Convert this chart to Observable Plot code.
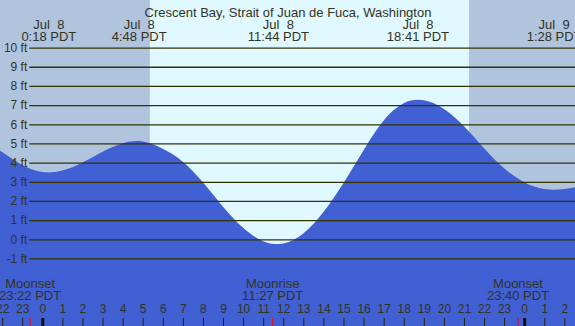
<!DOCTYPE html>
<html><head><meta charset="utf-8">
<script src="https://cdn.jsdelivr.net/npm/d3@7"></script>
<script src="https://cdn.jsdelivr.net/npm/@observablehq/plot@0.6"></script>
<style>body{margin:0;background:#fff;overflow:hidden}</style>
</head><body><div id="chart"></div>
<script>
// ---- data ----
const hours  = [-3,-2,-1,0,1,2,3,4,5,6,7,8,9,10,11,12,13,14,15,16,17,18,19,20,21,22,23,24,25,26,27];
const levels = [5.23,4.55,3.88,3.51,3.59,4.01,4.57,5.01,5.1,4.72,4.05,2.97,1.7,0.6,-0.1,-0.22,0.3,1.42,2.94,4.65,6.2,7.1,7.25,6.8,5.9,4.75,3.7,2.98,2.62,2.62,2.82];
const tideDates = ["Jul  8","Jul  8","Jul  8","Jul  8","Jul  9"];
const tideTimes = ["0:18 PDT","4:48 PDT","11:44 PDT","18:41 PDT","1:28 PDT"];
const tideHours = [0.3, 4.8, 11.733, 18.683, 25.467];
const moonNames = ["Moonset","Moonrise","Moonset"];
const moonTimes = ["23:22 PDT","11:27 PDT","23:40 PDT"];
const moonHours = [-0.633, 11.45, 23.667];
const sunrise = 5.36, sunset = 21.25;
const ftTicks = [-1,0,1,2,3,4,5,6,7,8,9,10];
const hourTicks = [-2,-1,0,1,2,3,4,5,6,7,8,9,10,11,12,13,14,15,16,17,18,19,20,21,22,23,24,25,26];
const midnightHours = [0, 24];
const title = "Crescent Bay, Strait of Juan de Fuca, Washington";

// ---- layout ----
const W = 575, H = 326;
const xMin = -2.107, xMax = 26.53;
const yMin = -4.523, yMax = 12.483;
const pxPerHour = W / (xMax - xMin);
const pxPerFt = H / (yMax - yMin);
const gridX1 = xMin + 29.3 / pxPerHour;
const tickTop = yMin + 8 / pxPerFt;

const tide = hours.map((h, i) => ({h, v: levels[i]}));
const events = tideHours.map((h, i) => ({h, date: tideDates[i], time: tideTimes[i]}));
const moons = moonHours.map((h, i) => ({h, name: moonNames[i], time: moonTimes[i]}));
const bands = [
  {a: xMin, b: sunrise, night: true},
  {a: sunrise, b: sunset, night: false},
  {a: sunset, b: xMax, night: true}
];
const txt = "#333322";
const font = "Liberation Sans, Arial, sans-serif";

const chart = Plot.plot({
  width: W, height: H,
  marginTop: 0, marginRight: 0, marginBottom: 0, marginLeft: 0,
  x: {domain: [xMin, xMax], axis: null},
  y: {domain: [yMin, yMax], axis: null},
  style: {fontFamily: font, background: "#fff"},
  marks: [
    Plot.rect(bands, {x1: "a", x2: "b", y1: yMin, y2: yMax, fill: d => d.night ? "#B0C4DE" : "#E0F8FF"}),
    Plot.areaY(tide, {x: "h", y1: yMin, y2: "v", curve: "natural", fill: "#4160D4", clip: true}),
    Plot.ruleY(ftTicks, {y: d => d, x1: gridX1, x2: xMax, stroke: "#333300", strokeWidth: 1.3}),
    Plot.text(ftTicks, {x: gridX1, y: d => d, text: d => `${d} ft`, textAnchor: "end", dx: -2.5, fontSize: 12, fill: txt}),
    Plot.text([title], {frameAnchor: "top", text: d => d, dy: 7, fontSize: 13, fill: txt}),
    Plot.text(events, {x: "h", text: "date", frameAnchor: "top", dy: 19.6, fontSize: 13, fill: txt}),
    Plot.text(events, {x: "h", text: "time", frameAnchor: "top", dy: 31.4, fontSize: 13, fill: txt}),
    Plot.text(moons, {x: "h", text: "name", frameAnchor: "bottom", dy: -38.4, fontSize: 13, fill: txt}),
    Plot.text(moons, {x: "h", text: "time", frameAnchor: "bottom", dy: -26.2, fontSize: 13, fill: txt}),
    Plot.text(hourTicks, {x: d => d, text: d => String(((d % 24) + 24) % 24), frameAnchor: "bottom", dy: -13.8, fontSize: 12, fill: txt}),
    Plot.ruleX(hourTicks, {x: d => d, y1: yMin, y2: tickTop, stroke: "#222211", strokeWidth: 1}),
    Plot.ruleX(midnightHours, {x: d => d, y1: yMin, y2: tickTop, stroke: "#111", strokeWidth: 3}),
    Plot.ruleX(moonHours, {x: d => d, y1: yMin, y2: tickTop, stroke: "#FF0000", strokeWidth: 1})
  ]
});
document.getElementById("chart").appendChild(chart);
</script>
</body></html>
